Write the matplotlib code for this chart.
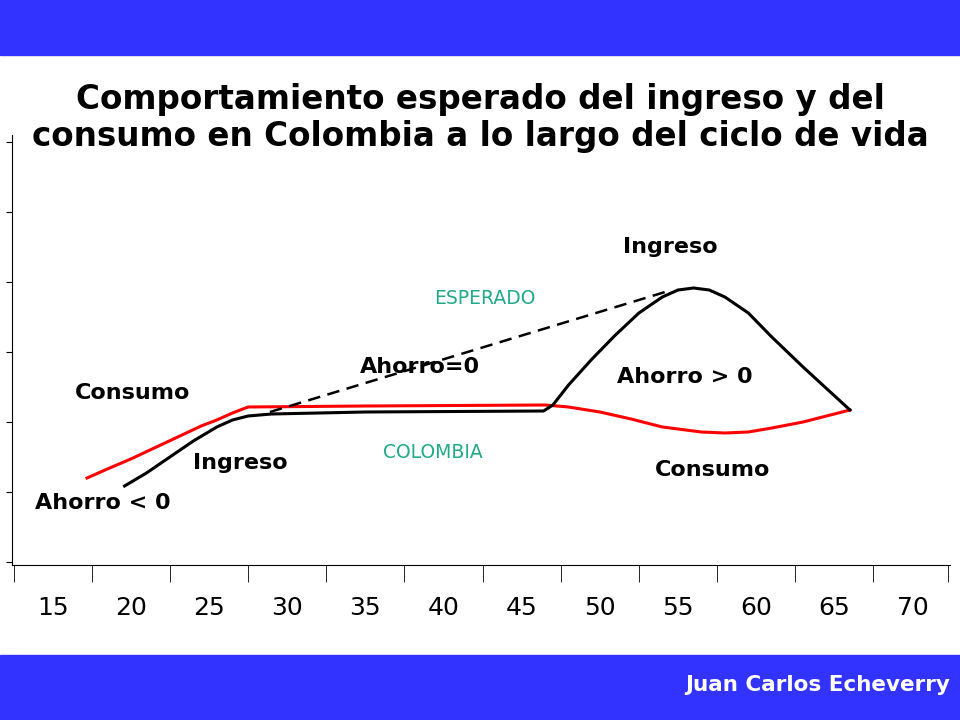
import matplotlib.pyplot as plt
from matplotlib.patches import Rectangle

ages = [15, 20, 25, 30, 35, 40, 45, 50, 55, 60, 65, 70]

consumo_x = [17.2, 18.5, 20, 21.5, 23, 24.5, 25.5, 26.5, 27.5, 35, 46.5, 48, 50, 52, 54, 56.5, 58, 59.5, 61, 63, 66]
consumo_y = [87, 96, 106, 117, 128, 139, 145, 152, 158, 159, 160, 158, 153, 146, 138, 133, 132, 133, 137, 143, 155]

ingreso_x = [19.6, 21, 22.5, 24, 25.5, 26.5, 27.5, 29, 35, 46.4, 47, 48, 49.5, 51, 52.5, 54, 55, 56, 57, 58, 59.5, 61, 63, 66]
ingreso_y = [79, 92, 108, 124, 138, 145, 149, 151, 153, 154, 160, 180, 206, 230, 252, 268, 275, 277, 275, 268, 252, 228, 198, 155]

esperado_x = [28.9, 54.6]
esperado_y = [153, 275]

blue = "#3333ff"
fig = plt.figure(figsize=(9.6, 7.2), dpi=100)
fig.patches.append(Rectangle((0, 1 - 55 / 720), 1, 55 / 720, transform=fig.transFigure, color=blue))
fig.patches.append(Rectangle((0, 0), 1, 65 / 720, transform=fig.transFigure, color=blue))
fig.text(0.99, 35 / 720, "Juan Carlos Echeverry", color="white", fontsize=15.5,
         fontweight="bold", ha="right", va="center")
fig.text(0.5, 1 - 118 / 720, "Comportamiento esperado del ingreso y del\nconsumo en Colombia a lo largo del ciclo de vida",
         ha="center", va="center", fontsize=23.5, fontweight="bold", linespacing=1.15)

ax = fig.add_axes([12 / 960, 155 / 720, 938 / 960, 430 / 720])
ax.set_xlim(12.4, 72.4)
ax.set_ylim(0, 430)
ax.patch.set_alpha(0)
for s in ["top", "right"]:
    ax.spines[s].set_visible(False)

ax.plot(consumo_x, consumo_y, color="red", lw=2.2)
ax.plot(ingreso_x, ingreso_y, color="black", lw=2.2)
ax.plot(esperado_x, esperado_y, color="black", lw=1.8, ls=(0, (5, 3)))

ax.set_xticks(ages)
ax.set_xticklabels([str(a) for a in ages], fontsize=18)
ax.tick_params(axis="x", length=0, pad=22)
ax.set_xticks([a + 2.5 for a in ages[:-1]] + [12.5, 72.3], minor=True)
ax.tick_params(axis="x", which="minor", length=12)
ax.set_yticks(range(3, 430, 70))
ax.set_yticklabels([])
ax.tick_params(axis="y", length=4)

labels = [
    (670, 247, "Ingreso", "black", True),
    (485, 298, "ESPERADO", "#22aa88", False),
    (420, 367, "Ahorro=0", "black", True),
    (685, 377, "Ahorro > 0", "black", True),
    (133, 393, "Consumo", "black", True),
    (240, 463, "Ingreso", "black", True),
    (433, 452, "COLOMBIA", "#22aa88", False),
    (713, 470, "Consumo", "black", True),
    (103, 503, "Ahorro < 0", "black", True),
]
for px, py, t, c, b in labels:
    fig.text(px / 960, 1 - py / 720, t, color=c, ha="center", va="center",
             fontsize=16 if b else 13.5, fontweight="bold" if b else "normal")

fig.savefig("out.png", dpi=100)
